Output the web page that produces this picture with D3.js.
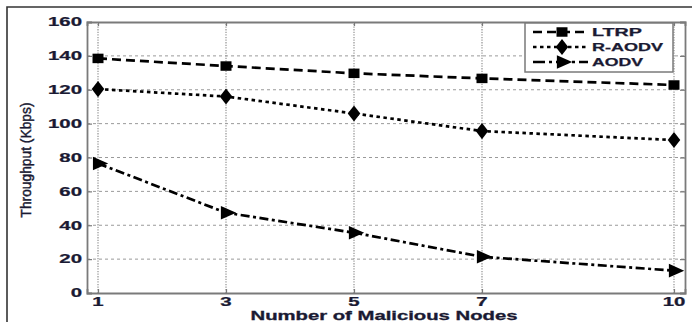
<!DOCTYPE html>
<html><head><meta charset="utf-8">
<script src="https://cdn.jsdelivr.net/npm/d3@7"></script>
<style>body{margin:0;background:#fff}svg{display:block}</style>
</head><body>
<script>
const nodes = [1, 3, 5, 7, 10];
const ltrp = [138.5, 134, 129.7, 126.7, 122.8];
const raodv = [120.4, 116, 106, 95.6, 90.3];
const aodv = [76.5, 47.4, 35.6, 21.4, 13.2];
const yTicks = [0, 20, 40, 60, 80, 100, 120, 140, 160];
const xTicks = [1, 3, 5, 7, 10];
const seriesNames = ["LTRP", "R-AODV", "AODV"];

const W = 692, H = 322;
const svg = d3.select("body").append("svg").attr("width", W).attr("height", H);
const x = d3.scaleLinear().domain([0.828, 10.172]).range([87, 685]);
const y = d3.scaleLinear().domain([0, 160]).range([293, 22]);
const textCol = "#1a1a33";
const gridCol = "#9a9a9a";
const axisCol = "#7a7a7a";

// outer frame
svg.append("path").attr("d", `M7,${H+5} L7,7 L${W+5},7`).attr("fill","none").attr("stroke","#333").attr("stroke-width",1.6);

// grid
const g = svg.append("g");
g.selectAll(".hg").data(yTicks.filter(t => t > 0 && t < 160)).join("line")
  .attr("x1", x.range()[0]).attr("x2", x.range()[1])
  .attr("y1", d => y(d)).attr("y2", d => y(d))
  .attr("stroke", gridCol).attr("stroke-width", 1).attr("stroke-dasharray", "3,3");
g.selectAll(".vg").data(xTicks).join("line")
  .attr("x1", d => x(d)).attr("x2", d => x(d))
  .attr("y1", y.range()[0]).attr("y2", y.range()[1])
  .attr("stroke", gridCol).attr("stroke-width", 1.3).attr("stroke-dasharray", "1.3,1.3");

// axes box
const ax = svg.append("g");
ax.append("g").attr("transform", `translate(0,${y(0)})`)
  .call(d3.axisBottom(x).tickValues(xTicks).tickSize(-4).tickFormat(""));
ax.append("g").attr("transform", `translate(0,${y(160)})`)
  .call(d3.axisTop(x).tickValues(xTicks).tickSize(-4).tickFormat(""));
ax.append("g").attr("transform", `translate(${x.range()[0]},0)`)
  .call(d3.axisLeft(y).tickValues(yTicks).tickSize(-5).tickFormat(""));
ax.append("g").attr("transform", `translate(${x.range()[1]},0)`)
  .call(d3.axisRight(y).tickValues(yTicks).tickSize(-5).tickFormat(""));
ax.selectAll("path.domain").attr("stroke", axisCol).attr("stroke-width", 1.8);
ax.selectAll(".tick line").attr("stroke", axisCol).attr("stroke-width", 1.2);

// tick labels
const fontFam = "'Liberation Sans', Arial, sans-serif";
svg.selectAll(".yl").data(yTicks).join("text")
  .attr("transform", d => `translate(82,${y(d) + 4.3}) scale(1.7,1)`)
  .attr("text-anchor", "end").attr("font-family", fontFam).attr("font-weight", "bold")
  .attr("font-size", 12).attr("fill", textCol).attr("stroke", textCol).attr("stroke-width", 0.25)
  .text(d => d);
svg.selectAll(".xl").data(xTicks).join("text")
  .attr("transform", d => `translate(${x(d)},306) scale(1.7,1)`)
  .attr("text-anchor", "middle").attr("font-family", fontFam).attr("font-weight", "bold")
  .attr("font-size", 12).attr("fill", textCol).attr("stroke", textCol).attr("stroke-width", 0.25)
  .text(d => d);

// axis titles
svg.append("text").attr("x", 384).attr("y", 320).attr("text-anchor", "middle")
  .attr("font-family", fontFam).attr("font-weight", "bold").attr("font-size", 12.5)
  .attr("fill", textCol).attr("stroke", textCol).attr("stroke-width", 0.3)
  .attr("textLength", 267).attr("lengthAdjust", "spacingAndGlyphs")
  .text("Number of Malicious Nodes");
svg.append("text").attr("transform", "translate(31,160) rotate(-90)").attr("text-anchor", "middle")
  .attr("font-family", fontFam).attr("font-size", 14.5).attr("fill", textCol)
  .attr("textLength", 115).attr("lengthAdjust", "spacingAndGlyphs")
  .attr("stroke", textCol).attr("stroke-width", 0.45)
  .text("Throughput (Kbps)");

// series
const dashes = ["9,5", "3.5,3.5", "9,3.5,3,3.5"];
const sym = [
  d3.symbol().type(d3.symbolSquare).size(100),
  d3.symbol().type(d3.symbolDiamond).size(75),
  d3.symbol().type(d3.symbolTriangle).size(80)
];
const allSeries = [ltrp, raodv, aodv];
const line = d3.line().x((d, i) => x(nodes[i])).y(d => y(d));
function mt(k, cx, cy) {
  const t = `translate(${cx},${cy})`;
  if (k === 1) return t + " scale(1.35,1)";
  if (k === 2) return t + " rotate(90) scale(1,1.3)";
  return t + " scale(1.1,0.95)";
}
allSeries.forEach((vals, k) => {
  svg.append("path").datum(vals).attr("d", line).attr("fill", "none")
    .attr("stroke", "#000").attr("stroke-width", 2.7).attr("stroke-dasharray", dashes[k]);
  svg.selectAll(".m" + k).data(vals).join("path")
    .attr("d", sym[k]()).attr("fill", "#000")
    .attr("transform", (d, i) => mt(k, x(nodes[i]), y(d)));
});

// legend
const lg = svg.append("g");
lg.append("rect").attr("x", 525).attr("y", 23).attr("width", 148).attr("height", 49)
  .attr("fill", "#fff").attr("stroke", axisCol).attr("stroke-width", 1.5);
seriesNames.forEach((name, k) => {
  const ly = 32 + k * 15;
  lg.append("line").attr("x1", 533).attr("x2", 588).attr("y1", ly).attr("y2", ly)
    .attr("stroke", "#000").attr("stroke-width", 2.7).attr("stroke-dasharray", k === 2 ? "12,4,3,4" : dashes[k]);
  lg.append("path").attr("d", sym[k]()).attr("fill", "#000").attr("transform", mt(k, 562, ly));
  const w = [50, 71, 51][k];
  lg.append("text").attr("x", 592).attr("y", ly + 4).attr("font-family", fontFam)
    .attr("font-weight", "bold").attr("font-size", 11.5).attr("fill", textCol)
    .attr("stroke", textCol).attr("stroke-width", 0.25)
    .attr("textLength", w).attr("lengthAdjust", "spacingAndGlyphs").text(name);
});
</script>
</body></html>
